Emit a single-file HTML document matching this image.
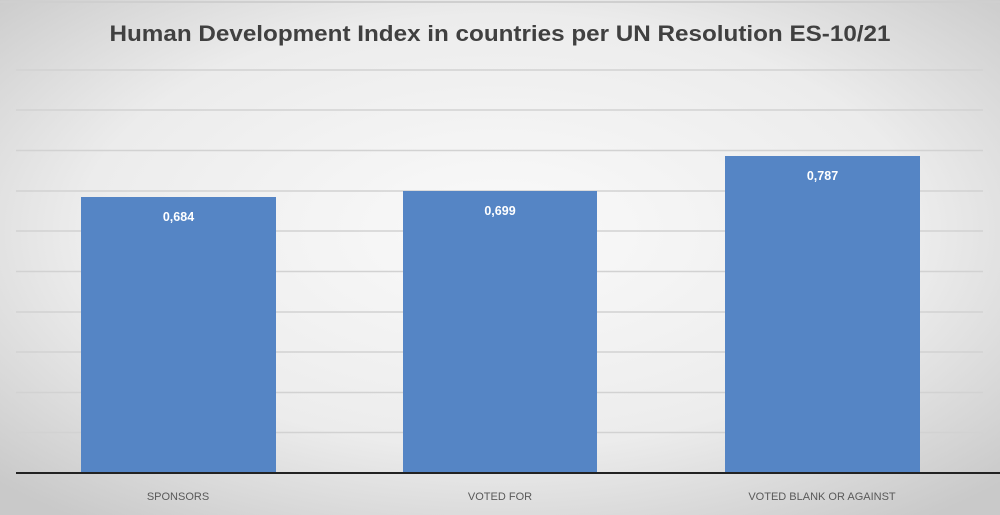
<!DOCTYPE html>
<html><head><meta charset="utf-8"><style>
html,body{margin:0;padding:0;width:1000px;height:515px;overflow:hidden}
</style></head><body>
<svg width="1000" height="515" xmlns="http://www.w3.org/2000/svg" font-family="Liberation Sans, sans-serif">
<defs>
<radialGradient id="bg" cx="50%" cy="45%" r="70%">
<stop offset="0" stop-color="#fafafa"/>
<stop offset="0.6" stop-color="#ececec"/>
<stop offset="1" stop-color="#c9c9c9"/>
</radialGradient>
</defs>
<rect width="1000" height="515" fill="url(#bg)"/>
<line x1="0" y1="2" x2="1000" y2="2" stroke="#cfcfcf" stroke-width="2"/>
<g stroke="#d2d2d2" stroke-width="1.5">
<line x1="16" y1="70" x2="983" y2="70"/>
<line x1="16" y1="110" x2="983" y2="110"/>
<line x1="16" y1="150.5" x2="983" y2="150.5"/>
<line x1="16" y1="191" x2="983" y2="191"/>
<line x1="16" y1="231" x2="983" y2="231"/>
<line x1="16" y1="271.5" x2="983" y2="271.5"/>
<line x1="16" y1="312" x2="983" y2="312"/>
<line x1="16" y1="352" x2="983" y2="352"/>
<line x1="16" y1="392.5" x2="983" y2="392.5"/>
<line x1="16" y1="432.5" x2="983" y2="432.5"/>
</g>
<g fill="#5585c5">
<rect x="81" y="197" width="195" height="276"/>
<rect x="403" y="191" width="194" height="282"/>
<rect x="725" y="156" width="195" height="317"/>
</g>
<line x1="16" y1="473" x2="1000" y2="473" stroke="#222" stroke-width="2"/>
<text x="500" y="41" text-anchor="middle" font-size="22" font-weight="bold" fill="#404040" textLength="781" lengthAdjust="spacingAndGlyphs">Human Development Index in countries per UN Resolution ES-10/21</text>
<g font-size="12.5" font-weight="bold" fill="#fff" text-anchor="middle">
<text x="178.5" y="221">0,684</text>
<text x="500" y="215">0,699</text>
<text x="822.5" y="180">0,787</text>
</g>
<g font-size="11" fill="#595959" text-anchor="middle">
<text x="178" y="500">SPONSORS</text>
<text x="500" y="500">VOTED FOR</text>
<text x="822" y="500">VOTED BLANK OR AGAINST</text>
</g>
</svg>
</body></html>
